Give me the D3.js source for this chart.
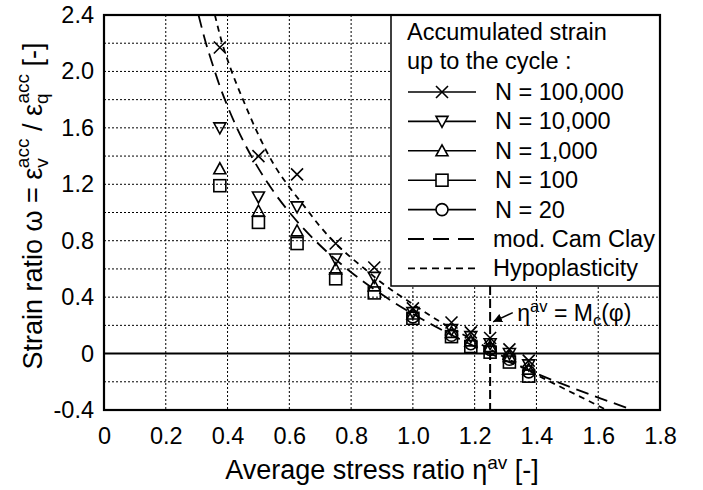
<!DOCTYPE html>
<html>
<head>
<meta charset="utf-8">
<script src="https://cdn.jsdelivr.net/npm/d3@7"></script>
<style>
  body { margin: 0; background: #fff; }
  svg { display: block; }
  text { font-family: "Liberation Sans", Arial, Helvetica, sans-serif; fill: #000; }
</style>
</head>
<body>
<svg id="chart" width="703" height="490"></svg>
<script>
// Average stress ratio of each test series
const stressRatios = [0.375, 0.5, 0.625, 0.75, 0.875, 1.0, 1.125, 1.1875, 1.25, 1.3125, 1.375];

// Strain ratio accumulated up to the given cycle
const omegaN100000 = [2.17, 1.40, 1.27, 0.78, 0.61, 0.32, 0.22, 0.15, 0.11, 0.03, -0.05];
const omegaN10000  = [1.60, 1.11, 1.04, 0.67, 0.54, 0.29, 0.17, 0.12, 0.07, 0.00, -0.08];
const omegaN1000   = [1.31, 1.01, 0.87, 0.60, 0.48, 0.28, 0.15, 0.09, 0.05, -0.02, -0.11];
const omegaN100    = [1.19, 0.93, 0.78, 0.53, 0.43, 0.25, 0.12, 0.05, 0.01, -0.06, -0.16];
const omegaN20     = [null, null, null, null, null, 0.26, 0.13, 0.07, 0.03, -0.04, -0.13];

// Flow rule of modified Cam Clay
const camClayEta   = [0.306, 0.33, 0.35, 0.375, 0.4, 0.45, 0.5, 0.55, 0.6, 0.7, 0.8, 0.9, 1.0, 1.1, 1.2, 1.3, 1.4, 1.5, 1.6, 1.713];
const camClayOmega = [2.40, 2.20, 2.06, 1.895, 1.753, 1.511, 1.3125, 1.145, 1.002, 0.766, 0.577, 0.418, 0.281, 0.160, 0.051, -0.049, -0.142, -0.229, -0.312, -0.400];

// Flow rule of hypoplasticity
const hypoEta   = [0.359, 0.38, 0.41, 0.45, 0.5, 0.55, 0.6, 0.65, 0.7, 0.75, 0.8, 0.85, 0.9, 1.0, 1.1, 1.2, 1.3, 1.4, 1.5, 1.6, 1.627];
const hypoOmega = [2.40, 2.22, 2.02, 1.80, 1.55, 1.34, 1.18, 1.04, 0.90, 0.78, 0.68, 0.59, 0.50, 0.35, 0.21, 0.09, -0.03, -0.15, -0.26, -0.37, -0.40];

// Critical stress ratio M_c(φ)
const criticalRatio = 1.25;

const xTicks = [0, 0.2, 0.4, 0.6, 0.8, 1.0, 1.2, 1.4, 1.6, 1.8];
const xTickLabels = ["0", "0.2", "0.4", "0.6", "0.8", "1.0", "1.2", "1.4", "1.6", "1.8"];
const yTicks = [-0.4, 0, 0.4, 0.8, 1.2, 1.6, 2.0, 2.4];
const yTickLabels = ["-0.4", "0", "0.4", "0.8", "1.2", "1.6", "2.0", "2.4"];
const gridX = [0.2, 0.4, 0.6, 0.8, 1.0, 1.2, 1.4, 1.6];
const gridY = [-0.2, 0.2, 0.4, 0.6, 0.8, 1.0, 1.2, 1.4, 1.6, 1.8, 2.0, 2.2];

const legendTitle = ["Accumulated strain", "up to the cycle :"];
const seriesNames = ["N = 100,000", "N = 10,000", "N = 1,000", "N = 100", "N = 20"];
const curveNames = ["mod. Cam Clay", "Hypoplasticity"];

// ---- layout ----
const svg = d3.select("#chart");
const plot = { left: 104, right: 660, top: 15, bottom: 410 };
const FS = 23.5;
const TITLE_FS = 27;
const SUB_FS = 19;

const x = d3.scaleLinear().domain([0, 1.8]).range([plot.left, plot.right]);
const y = d3.scaleLinear().domain([-0.4, 2.4]).range([plot.bottom, plot.top]);

svg.append("defs").append("clipPath").attr("id", "plotClip")
  .append("rect").attr("x", plot.left).attr("y", plot.top)
  .attr("width", plot.right - plot.left).attr("height", plot.bottom - plot.top);

// dotted grid
const grid = svg.append("g").attr("stroke", "#000").attr("stroke-width", 1).attr("stroke-dasharray", "2,2");
grid.selectAll("line.gx").data(gridX).join("line")
  .attr("x1", d => x(d)).attr("x2", d => x(d))
  .attr("y1", plot.top).attr("y2", plot.bottom);
grid.selectAll("line.gy").data(gridY).join("line")
  .attr("x1", plot.left).attr("x2", plot.right)
  .attr("y1", d => y(d)).attr("y2", d => y(d));

// zero line
svg.append("line")
  .attr("x1", plot.left).attr("x2", plot.right)
  .attr("y1", y(0)).attr("y2", y(0))
  .attr("stroke", "#000").attr("stroke-width", 2);

// legend geometry (needed for the critical line end)
const legend = { left: 391, top: plot.top, right: plot.right, bottom: 286 };

// critical stress ratio line
svg.append("line")
  .attr("x1", x(criticalRatio)).attr("x2", x(criticalRatio))
  .attr("y1", legend.bottom).attr("y2", plot.bottom)
  .attr("stroke", "#000").attr("stroke-width", 2).attr("stroke-dasharray", "9,4");

// model curves
const line = d3.line().x(d => x(d[0])).y(d => y(d[1])).curve(d3.curveMonotoneX);
const curves = svg.append("g").attr("clip-path", "url(#plotClip)").attr("fill", "none").attr("stroke", "#000");
curves.append("path")
  .attr("d", line(d3.zip(camClayEta, camClayOmega)))
  .attr("stroke-width", 1.8).attr("stroke-dasharray", "13,7");
curves.append("path")
  .attr("d", line(d3.zip(hypoEta, hypoOmega)))
  .attr("stroke-width", 1.8).attr("stroke-dasharray", "6,5");

// marker symbols
function drawMarker(g, type) {
  const s = 6;
  if (type === "cross") {
    g.append("path").attr("d", `M${-s},${-s}L${s},${s}M${-s},${s}L${s},${-s}`);
  } else if (type === "triDown") {
    g.append("path").attr("d", `M${-s},${-5}L${s},${-5}L0,${6}Z`);
  } else if (type === "triUp") {
    g.append("path").attr("d", `M${-s},${5}L${s},${5}L0,${-6}Z`);
  } else if (type === "square") {
    g.append("rect").attr("x", -s).attr("y", -s).attr("width", 2 * s).attr("height", 2 * s);
  } else if (type === "circle") {
    g.append("circle").attr("r", s);
  }
}

const series = [
  { values: omegaN100000, marker: "cross" },
  { values: omegaN10000, marker: "triDown" },
  { values: omegaN1000, marker: "triUp" },
  { values: omegaN100, marker: "square" },
  { values: omegaN20, marker: "circle" }
];

const marks = svg.append("g").attr("fill", "none").attr("stroke", "#000").attr("stroke-width", 1.6);
series.slice().reverse().forEach(sr => {
  stressRatios.forEach((eta, i) => {
    const v = sr.values[i];
    if (v === null) return;
    const g = marks.append("g").attr("transform", `translate(${x(eta)},${y(v)})`);
    drawMarker(g, sr.marker);
  });
});

// axes
const xAxis = d3.axisBottom(x).tickValues(xTicks).tickSize(0).tickPadding(17)
  .tickFormat((d, i) => xTickLabels[i]);
const gx = svg.append("g").attr("transform", `translate(0,${plot.bottom})`).call(xAxis);
gx.select(".domain").remove();
gx.selectAll("text").attr("font-size", FS).attr("font-family", null);

const yAxis = d3.axisLeft(y).tickValues(yTicks).tickSize(0).tickPadding(10)
  .tickFormat((d, i) => yTickLabels[i]);
const gy = svg.append("g").attr("transform", `translate(${plot.left},0)`).call(yAxis);
gy.select(".domain").remove();
gy.selectAll("text").attr("font-size", FS).attr("font-family", null);

// legend
svg.append("rect")
  .attr("x", legend.left).attr("y", legend.top)
  .attr("width", legend.right - legend.left).attr("height", legend.bottom - legend.top)
  .attr("fill", "#fff").attr("stroke", "#000").attr("stroke-width", 1.5);

legendTitle.forEach((t, i) => {
  svg.append("text").attr("x", 407).attr("y", 40 + i * 29).attr("font-size", FS).text(t);
});

const rowY0 = 92, rowStep = 29.4;
const lg = svg.append("g");
seriesNames.forEach((name, i) => {
  const cy = rowY0 + i * rowStep;
  lg.append("line").attr("x1", 408).attr("x2", 476).attr("y1", cy).attr("y2", cy)
    .attr("stroke", "#000").attr("stroke-width", 1.6);
  const m = lg.append("g").attr("transform", `translate(442,${cy})`)
    .attr("fill", "#fff").attr("stroke", "#000").attr("stroke-width", 1.6);
  drawMarker(m, series[i].marker);
  lg.append("text").attr("x", 495).attr("y", cy + 8).attr("font-size", FS).text(name);
});
curveNames.forEach((name, j) => {
  const cy = rowY0 + (seriesNames.length + j) * rowStep;
  lg.append("line").attr("x1", 408).attr("x2", 477).attr("y1", cy).attr("y2", cy)
    .attr("stroke", "#000").attr("stroke-width", 1.8)
    .attr("stroke-dasharray", j === 0 ? "16,9" : "7,5");
  lg.append("text").attr("x", 493).attr("y", cy + 8).attr("font-size", FS).text(name);
});

// plot frame
svg.append("rect")
  .attr("x", plot.left).attr("y", plot.top)
  .attr("width", plot.right - plot.left).attr("height", plot.bottom - plot.top)
  .attr("fill", "none").attr("stroke", "#000").attr("stroke-width", 2.2);

// annotation of the critical stress ratio
svg.append("defs").append("marker").attr("id", "arrowHead")
  .attr("viewBox", "0 0 10 10").attr("refX", 10).attr("refY", 5)
  .attr("markerWidth", 6).attr("markerHeight", 6).attr("orient", "auto")
  .append("path").attr("d", "M0,0L10,5L0,10Z").attr("fill", "#000");
svg.append("line")
  .attr("x1", x(1.333) - 3).attr("y1", y(0.29))
  .attr("x2", x(criticalRatio) + 3).attr("y2", y(0.225))
  .attr("stroke", "#000").attr("stroke-width", 1.5).attr("marker-end", "url(#arrowHead)");

const ann = svg.append("text").attr("x", x(1.338)).attr("y", y(0.23)).attr("font-size", 23);
ann.append("tspan").text("η");
ann.append("tspan").attr("font-size", 16.5).attr("dy", -9).text("av");
ann.append("tspan").attr("dy", 9).text(" = M");
ann.append("tspan").attr("font-size", 16.5).attr("dy", 5).text("c");
ann.append("tspan").attr("dy", -5).text("(φ)");

// axis titles
const xt = svg.append("text").attr("x", 382).attr("y", 479).attr("text-anchor", "middle").attr("font-size", TITLE_FS);
xt.append("tspan").text("Average stress ratio η");
xt.append("tspan").attr("font-size", SUB_FS).attr("dy", -10).text("av");
xt.append("tspan").attr("dy", 10).text(" [-]");

const yt = svg.append("text").attr("transform", "translate(42,206) rotate(-90)")
  .attr("text-anchor", "middle").attr("font-size", TITLE_FS);
yt.append("tspan").text("Strain ratio ω = ε");
yt.append("tspan").attr("font-size", SUB_FS).attr("dy", 6).text("v");
yt.append("tspan").attr("font-size", SUB_FS).attr("dx", -10).attr("dy", -19).text("acc");
yt.append("tspan").attr("dy", 13).text(" / ε");
yt.append("tspan").attr("font-size", SUB_FS).attr("dy", 6).text("q");
yt.append("tspan").attr("font-size", SUB_FS).attr("dx", -10).attr("dy", -19).text("acc");
yt.append("tspan").attr("dy", 13).text(" [-]");
</script>
</body>
</html>
